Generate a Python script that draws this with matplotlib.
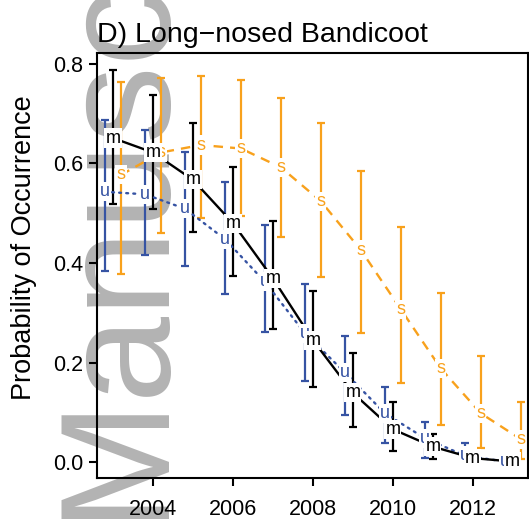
import numpy as np
import matplotlib
matplotlib.use("Agg")
import matplotlib.pyplot as plt

plt.rcParams['font.family'] = ['Liberation Sans', 'DejaVu Sans']

# survey years
years = np.arange(2003, 2014)

# "m" series (black, solid)
m_mean = [0.651, 0.622, 0.567, 0.480, 0.369, 0.245, 0.139, 0.066, 0.031, 0.008, 0.001]
m_lo = [0.518, 0.508, 0.462, 0.374, 0.267, 0.151, 0.070, 0.023, 0.007, 0.004, 0.000]
m_hi = [0.788, 0.738, 0.681, 0.592, 0.485, 0.344, 0.220, 0.121, 0.056, 0.014, 0.003]

# "u" series (blue, dotted)
u_mean = [0.543, 0.538, 0.509, 0.448, 0.362, 0.259, 0.180, 0.098, 0.048, 0.013, 0.001]
u_lo = [0.383, 0.417, 0.393, 0.338, 0.262, 0.163, 0.094, 0.039, 0.009, 0.004, 0.000]
u_hi = [0.687, 0.667, 0.622, 0.562, 0.476, 0.358, 0.253, 0.151, 0.080, 0.038, 0.004]

# "s" series (orange, dashed)
s_mean = [0.577, 0.622, 0.637, 0.630, 0.592, 0.524, 0.426, 0.307, 0.188, 0.098, 0.046]
s_lo = [0.378, 0.460, 0.491, 0.494, 0.452, 0.372, 0.259, 0.158, 0.074, 0.028, 0.006]
s_hi = [0.764, 0.771, 0.776, 0.768, 0.731, 0.682, 0.584, 0.473, 0.340, 0.214, 0.120]

BLUE = "#3653a3"
ORANGE = "#f8a11c"

fig = plt.figure(figsize=(5.29, 5.19), dpi=100)
ax = fig.add_axes([0.1834, 0.079, 0.8146, 0.819])
ax.set_facecolor("none")

# watermark behind everything
fig.text(0.298, 0.0, "Manuscript", rotation=90, rotation_mode="anchor",
         ha="left", va="baseline", fontsize=112, color="#b3b3b3", zorder=-5)

series = [
    (u_mean, u_lo, u_hi, -0.2, BLUE, (0, (0.8, 2.2)), "u"),
    (s_mean, s_lo, s_hi, 0.2, ORANGE, (0, (4, 3)), "s"),
    (m_mean, m_lo, m_hi, 0.0, "black", "-", "m"),
]

for mean, lo, hi, off, col, ls, lab in series:
    x = years + off
    mean = np.array(mean)
    err = [mean - np.array(lo), np.array(hi) - mean]
    ax.errorbar(x, mean, yerr=err, fmt="none", ecolor=col, elinewidth=1.6,
                capsize=3, capthick=1.6, zorder=2)
    ax.plot(x, mean, color=col, ls=ls, lw=1.7, zorder=3,
            dash_capstyle="round" if lab == "u" else "butt")

for mean, lo, hi, off, col, ls, lab in series:
    for xi, yi in zip(years + off, mean):
        ax.text(xi, yi, lab, color=col, fontsize=13, ha="center", va="center",
                zorder=5, bbox=dict(boxstyle="square,pad=0.06", fc="white", ec="none"))

ax.set_xlim(2002.6, 2013.38)
ax.set_ylim(-0.032, 0.822)
ax.set_xticks([2004, 2006, 2008, 2010, 2012])
ax.set_yticks([0.0, 0.2, 0.4, 0.6, 0.8])
ax.set_yticklabels(["0.0", "0.2", "0.4", "0.6", "0.8"])
ax.tick_params(labelsize=15.5, length=6, width=1.5)
ax.tick_params(axis="x", pad=9)
ax.tick_params(axis="y", pad=4)
for sp in ax.spines.values():
    sp.set_linewidth(1.5)

ax.set_ylabel("Probability of Occurrence", fontsize=19.5)
ax.yaxis.set_label_coords(-0.14, 0.543)
ax.set_title("D) Long\u2212nosed Bandicoot", loc="left", fontsize=20.5, pad=8)

fig.savefig("out.png", dpi=100)
